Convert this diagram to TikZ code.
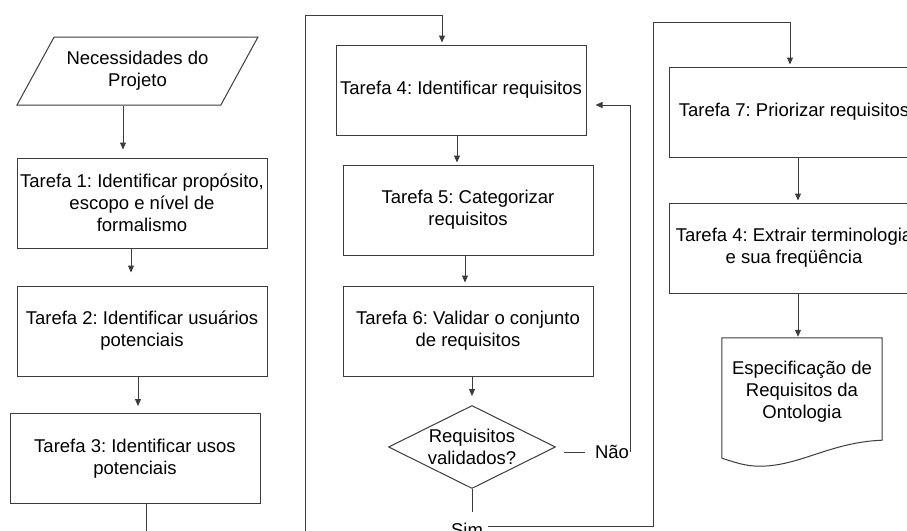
\documentclass[tikz,border=0pt]{standalone}
\usepackage{fontspec}
\setmainfont{Liberation Sans}
\frenchspacing
\usetikzlibrary{arrows.meta,shapes.geometric,calc}
\definecolor{clLine}{HTML}{3C3C3C}
\tikzset{
  task/.style={rectangle, draw=clLine, line width=1pt, align=center, inner sep=1pt,
               minimum width=250pt, minimum height=90pt, fill=white},
  inputbox/.style={trapezium, trapezium left angle=48, trapezium right angle=132,
               trapezium stretches body, draw=clLine, line width=1pt, align=center,
               minimum width=241pt, minimum height=68pt, inner sep=1pt},
  decision/.style={diamond, aspect=2, draw=clLine, line width=1pt, align=center,
               inner sep=0pt, minimum width=167pt, minimum height=83pt},
  docbox/.style={rectangle, align=center, inner sep=1pt,
               minimum width=160pt, minimum height=107pt},
  flow/.style={-{Triangle[length=7pt,width=6pt]}, line width=1pt, draw=clLine},
  link/.style={line width=1pt, draw=clLine},
  flowlabel/.style={inner sep=1pt},
}

\begin{document}
\begin{tikzpicture}[x=1pt, y=-1pt, every node/.style={font=\fontsize{18.5}{22}\selectfont}]
  \clip (0,0) rectangle (907,530);
  \fill[white] (0,0) rectangle (907,530);
  % first column
  \node[inputbox] (need) at (137.5,71) {Necessidades do\\Projeto};
  \node[task] (t1) at (142,203) {Tarefa 1: Identificar propósito,\\escopo e nível de\\formalismo};
  \node[task] (t2) at (142,331) {Tarefa 2: Identificar usuários\\potenciais};
  \node[task] (t3) at (135,458.5) {Tarefa 3: Identificar usos\\potenciais};
  % second column
  \node[task] (t4) at (461,90) {Tarefa 4: Identificar requisitos};
  \node[task] (t5) at (468,210) {Tarefa 5: Categorizar\\requisitos};
  \node[task] (t6) at (468,331) {Tarefa 6: Validar o conjunto\\de requisitos};
  \node[decision] (valid) at (472,447) {Requisitos\\validados?};
  \node[flowlabel] (nao) at (612,452) {Não};
  \node[flowlabel] (sim) at (467,530) {Sim};
  % third column
  \node[task] (t7) at (794,112) {Tarefa 7: Priorizar requisitos};
  \node[task] (t8) at (794,248) {Tarefa 4: Extrair terminologia\\e sua freqüência};
  \node[docbox] (spec) at (802,391.5) {Especificação de\\Requisitos da\\Ontologia};
  \draw[link] ($(spec.south west)+(0,13)$) -- (spec.north west) -- (spec.north east)
    -- ($(spec.south east)+(0,-5)$)
    .. controls ($(spec.south east)+(-52,-3)$) and ($(spec.south west)+(78,21)$) .. ($(spec.south west)+(38,21)$)
    .. controls ($(spec.south west)+(23,21)$) and ($(spec.south west)+(13,17)$) .. ($(spec.south west)+(0,13)$);
  % loop corners
  \coordinate (loopA) at (305,545);
  \coordinate (loopB) at (305,15);
  \coordinate (loopC) at (653,22);
  % connectors
  \draw[flow, shorten >=8pt] ([xshift=-19pt]t1.north |- need.south) -- ([xshift=-19pt]t1.north);
  \draw[flow, shorten >=13pt] ([xshift=-11pt]t1.south) -- ([xshift=-11pt]t1.south |- t2.north);
  \draw[flow, shorten >=7pt] ([xshift=-4pt]t2.south) -- ([xshift=-4pt]t2.south |- t3.north);
  \draw[flow, shorten >=2pt] ([xshift=11pt]t3.south) |- (loopA) -- (loopB) -| ([xshift=-19pt]t4.north);
  \draw[flow, shorten >=2pt] ([xshift=-4pt]t4.south) -- ([xshift=-4pt]t4.south |- t5.north);
  \draw[flow, shorten >=3pt] ([xshift=-3pt]t5.south) -- ([xshift=-3pt]t5.south |- t6.north);
  \draw[flow, shorten >=9pt] ([xshift=4pt]t6.south) -- ([xshift=4pt]t6.south |- valid.north);
  \draw[link, shorten <=8pt, shorten >=9pt] (valid.east |- nao.west) -- (nao.west);
  \draw[flow, shorten >=9pt] (nao.east) |- ([yshift=-15pt]t4.east);
  \draw[link, shorten >=10pt] (valid.south) -- (valid.south |- sim.north);
  \draw[flow, shorten <=4pt, shorten >=2pt] ([yshift=4pt]sim.east) -| (loopC) -| ([xshift=-4pt]t7.north);
  \draw[flow, shorten >=2pt] ([xshift=4pt]t7.south) -- ([xshift=4pt]t7.south |- t8.north);
  \draw[flow, shorten >=1pt] ([xshift=4pt]t8.south) -- ([xshift=4pt]t8.south |- spec.north);
\end{tikzpicture}
\end{document}
